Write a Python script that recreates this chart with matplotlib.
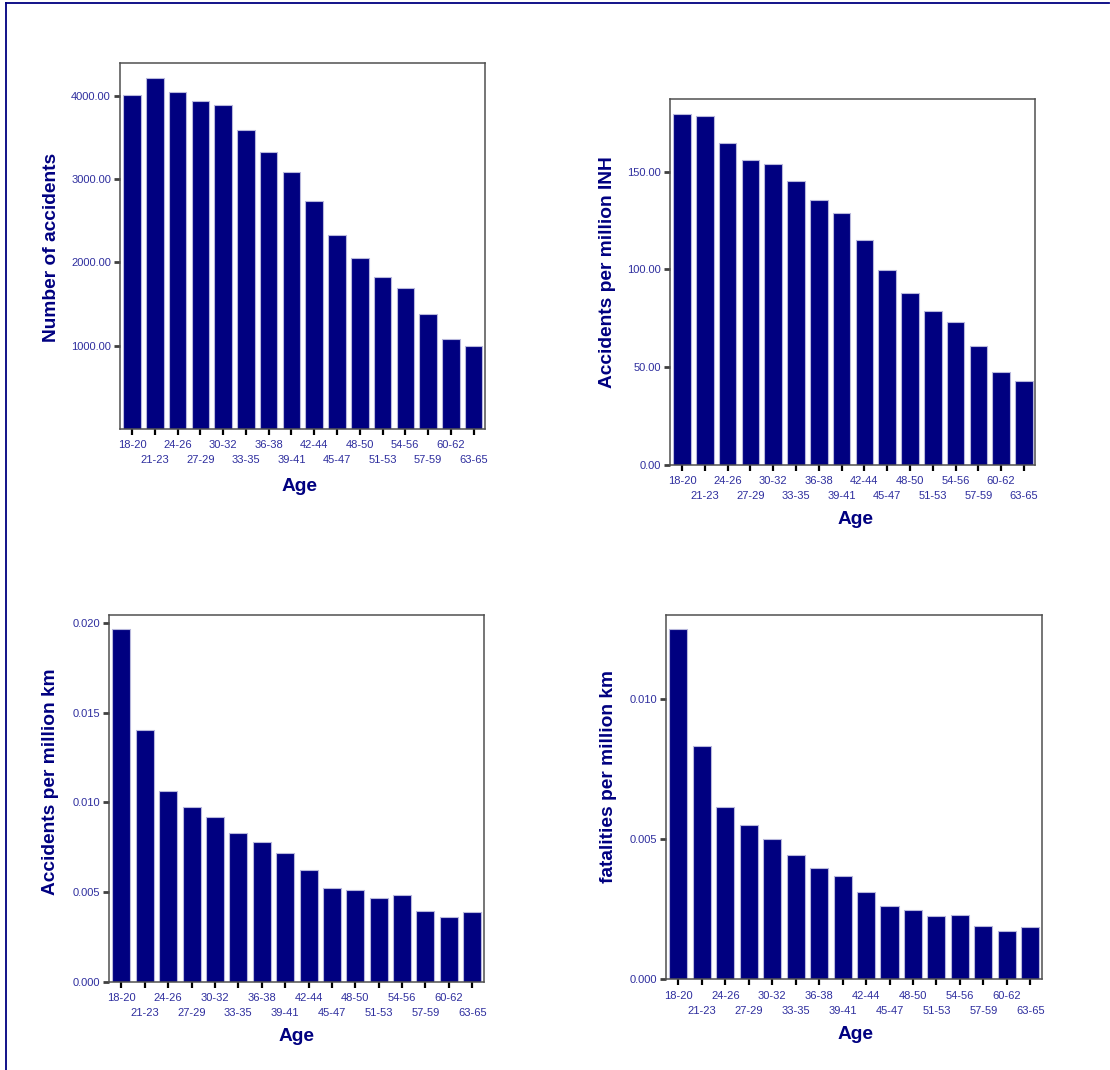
import matplotlib
matplotlib.use("Agg")
import matplotlib.pyplot as plt
from matplotlib.lines import Line2D

plt.rcParams['font.family'] = ['Liberation Sans', 'DejaVu Sans']

ages = ["18-20", "21-23", "24-26", "27-29", "30-32", "33-35", "36-38", "39-41",
        "42-44", "45-47", "48-50", "51-53", "54-56", "57-59", "60-62", "63-65"]

accidents = [4010, 4210, 4050, 3940, 3895, 3590, 3320, 3090,
             2742, 2327, 2056, 1825, 1690, 1386, 1080, 992]
acc_per_inh = [179.6, 178.4, 164.6, 156.1, 154.2, 145.2, 135.5, 128.8,
               115.1, 99.6, 88.0, 78.8, 73.2, 60.9, 47.6, 43.0]
acc_per_km = [0.01967, 0.01404, 0.01064, 0.00976, 0.0092, 0.00829, 0.00779, 0.00716,
              0.00621, 0.00524, 0.00509, 0.00466, 0.00483, 0.00395, 0.0036, 0.00386]
fat_per_km = [0.012507, 0.00834, 0.00617, 0.00553, 0.00503, 0.00444, 0.00398, 0.00369,
              0.00313, 0.00263, 0.00249, 0.00227, 0.00231, 0.0019, 0.00172, 0.00188]

navy = "#000080"
tick_blue = "#2e2e9e"

fig = plt.figure(figsize=(11.1, 10.7), dpi=100)

# thin frame on top and left like the original export
fig.add_artist(Line2D([0.0055, 0.999], [0.9975, 0.9975], color=navy, lw=1.3))
fig.add_artist(Line2D([0.0055, 0.0055], [0.0, 0.9975], color=navy, lw=1.3))


def panel(rect, values, ylabel, ylim, yticks, fmt, ylab_pos, xlab_pos):
    ax = fig.add_axes(rect)
    x = list(range(len(values)))
    ax.bar(x, values, width=0.77, color=navy, edgecolor="#b8b8dc", linewidth=0.8)
    ax.set_xlim(-0.53, len(values) - 0.5)
    ax.set_ylim(*ylim)
    ax.set_yticks(yticks)
    ax.set_yticklabels([fmt % v for v in yticks])
    # labels staggered on two rows: even ones on major ticks, odd ones on minor
    ax.set_xticks(x[0::2])
    ax.set_xticklabels(ages[0::2])
    ax.set_xticks(x[1::2], minor=True)
    ax.set_xticklabels(ages[1::2], minor=True)
    ax.tick_params(axis="y", colors="#404040", labelcolor=tick_blue, labelsize=8,
                   length=4.5, width=2.0, pad=2)
    ax.tick_params(axis="x", which="both", colors="black", labelcolor=tick_blue,
                   labelsize=8, length=4.5, width=1.6)
    ax.tick_params(axis="x", which="major", pad=3.5)
    ax.tick_params(axis="x", which="minor", pad=14.5)
    for s in ax.spines.values():
        s.set_color("#505050")
        s.set_linewidth(1.1)
    ax.set_ylabel(ylabel, fontsize=13.8, fontweight="bold", color=navy, va="center")
    ax.yaxis.set_label_coords(*ylab_pos)
    ax.set_xlabel("Age", fontsize=13.8, fontweight="bold", color=navy, va="center")
    ax.xaxis.set_label_coords(*xlab_pos)
    return ax


panel([0.1081, 0.5991, 0.3288, 0.3421], accidents, "Number of accidents",
      (0, 4395), [1000, 2000, 3000, 4000], "%.2f", (-0.189, 0.497), (0.493, -0.156))
panel([0.6036, 0.5654, 0.3291, 0.3421], acc_per_inh, "Accidents per million INH",
      (0, 187.2), [0, 50, 100, 150], "%.2f", (-0.170, 0.527), (0.507, -0.150))
panel([0.0982, 0.0827, 0.3378, 0.3425], acc_per_km, "Accidents per million km",
      (0, 0.02046), [0, 0.005, 0.010, 0.015, 0.020], "%.3f", (-0.157, 0.544), (0.501, -0.149))
panel([0.6000, 0.0846, 0.3387, 0.3407], fat_per_km, "fatalities per million km",
      (0, 0.01302), [0, 0.005, 0.010], "%.3f", (-0.154, 0.556), (0.503, -0.150))

fig.savefig("out.png", dpi=100)
